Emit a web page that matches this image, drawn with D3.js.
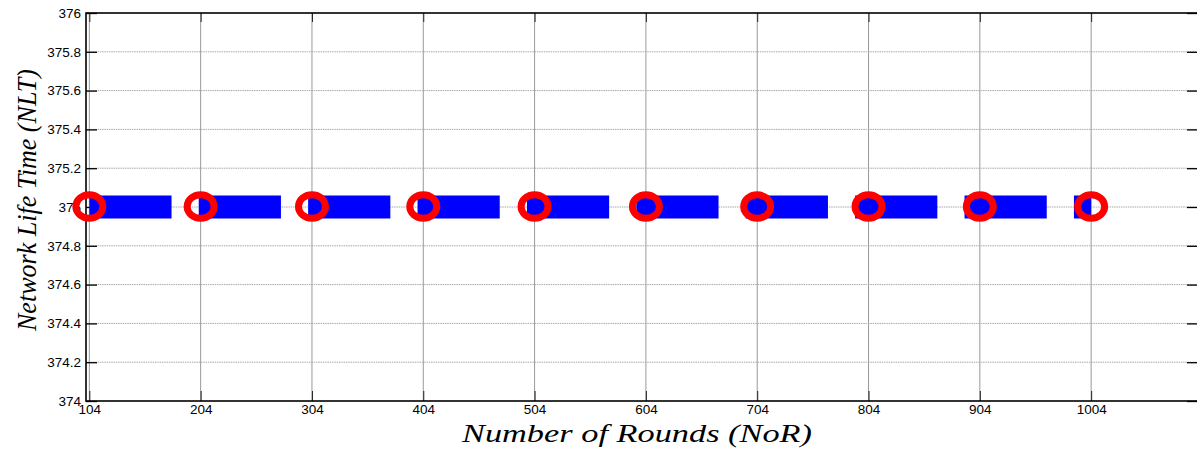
<!DOCTYPE html>
<html>
<head>
<meta charset="utf-8">
<script src="https://cdn.jsdelivr.net/npm/d3@7"></script>
<style>
  html, body { margin: 0; padding: 0; background: #fff; }
  svg { display: block; }
  .tick text { font-family: "Liberation Sans", Arial, sans-serif; font-size: 13.5px; fill: #000; }
</style>
</head>
<body>
<svg id="chart" width="1197" height="450"></svg>
<script>
// ---- data ----
const rounds = [104, 204, 304, 404, 504, 604, 704, 804, 904, 1004];
const nlt = [375, 375, 375, 375, 375, 375, 375, 375, 375, 375];
const xTickValues = [104, 204, 304, 404, 504, 604, 704, 804, 904, 1004];
const yTickValues = [374, 374.2, 374.4, 374.6, 374.8, 375, 375.2, 375.4, 375.6, 375.8, 376];
const yTickLabels = ["374", "374.2", "374.4", "374.6", "374.8", "375", "375.2", "375.4", "375.6", "375.8", "376"];
const xDomain = [101, 1100];
const yDomain = [374, 376];
const xLabel = "Number of Rounds (NoR)";
const yLabel = "Network Life Time (NLT)";

// ---- layout ----
const svg = d3.select("#chart");
const mLeft = 86, mRight = 1198, mTop = 13, mBottom = 401;
const x = d3.scaleLinear().domain(xDomain).range([mLeft, mRight]);
const y = d3.scaleLinear().domain(yDomain).range([mBottom, mTop]);

// grid
const grid = svg.append("g");
grid.selectAll("line.vg").data(xTickValues).enter().append("line")
  .attr("x1", d => x(d)).attr("x2", d => x(d))
  .attr("y1", mTop).attr("y2", mBottom)
  .attr("stroke", "#999").attr("stroke-width", 1);
grid.selectAll("line.hg").data(yTickValues.slice(1, -1)).enter().append("line")
  .attr("x1", mLeft).attr("x2", mRight)
  .attr("y1", d => y(d)).attr("y2", d => y(d))
  .attr("stroke", "#a8a8a8").attr("stroke-width", 1)
  .attr("stroke-dasharray", "1.5,0.8");

// axes (MATLAB box style, ticks inward)
const yAxisL = d3.axisLeft(y).tickValues(yTickValues)
  .tickFormat((d, i) => yTickLabels[i]).tickSizeInner(-11).tickSizeOuter(0).tickPadding(5);
const gyl = svg.append("g").attr("transform", `translate(${mLeft},0)`).call(yAxisL);
gyl.select(".domain").remove();
gyl.selectAll(".tick line").attr("stroke", "#000").attr("stroke-width", 1.3);

const yAxisR = d3.axisRight(y).tickValues(yTickValues).tickFormat("").tickSizeInner(-11).tickSizeOuter(0);
const gyr = svg.append("g").attr("transform", `translate(${mRight},0)`).call(yAxisR);
gyr.select(".domain").remove();
gyr.selectAll(".tick line").attr("stroke", "#000").attr("stroke-width", 1.3);

const xAxisB = d3.axisBottom(x).tickValues(xTickValues).tickFormat(d3.format("d"))
  .tickSizeInner(-10).tickSizeOuter(0).tickPadding(3);
const gxb = svg.append("g").attr("transform", `translate(0,${mBottom})`).call(xAxisB);
gxb.select(".domain").remove();
gxb.selectAll(".tick line").attr("stroke", "#222").attr("stroke-width", 1);

const xAxisT = d3.axisTop(x).tickValues(xTickValues).tickFormat("").tickSizeInner(-9).tickSizeOuter(0);
const gxt = svg.append("g").attr("transform", `translate(0,${mTop})`).call(xAxisT);
gxt.select(".domain").remove();
gxt.selectAll(".tick line").attr("stroke", "#222").attr("stroke-width", 1);

// box
svg.append("rect").attr("x", mLeft).attr("y", mTop)
  .attr("width", mRight - mLeft).attr("height", mBottom - mTop)
  .attr("fill", "none").attr("stroke", "#000").attr("stroke-width", 1.6);

// data: thick dashed blue line
const pts = rounds.map((r, i) => [r, nlt[i]]);
const line = d3.line().x(d => x(d[0])).y(d => y(d[1]));
svg.append("path").datum(pts).attr("d", line)
  .attr("fill", "none").attr("stroke", "#0000ff").attr("stroke-width", 23)
  .attr("stroke-dasharray", "82.2,27.2").attr("stroke-linecap", "butt");

// red ring markers
svg.selectAll("ellipse.mk").data(pts).enter().append("ellipse")
  .attr("cx", d => x(d[0])).attr("cy", d => y(d[1]) - 0.5)
  .attr("rx", 13.5).attr("ry", 11.7)
  .attr("fill", "none").attr("stroke", "#ff0000").attr("stroke-width", 7);

// labels
svg.append("text").attr("x", (mLeft + mRight) / 2 - 5).attr("y", 442)
  .attr("text-anchor", "middle")
  .attr("font-family", "Liberation Serif, DejaVu Serif, serif")
  .attr("font-style", "italic").attr("font-size", 26)
  .attr("textLength", 350).attr("lengthAdjust", "spacingAndGlyphs")
  .text(xLabel);

svg.append("text").attr("transform", "translate(36,200) rotate(-90)")
  .attr("text-anchor", "middle")
  .attr("font-family", "Liberation Serif, DejaVu Serif, serif")
  .attr("font-style", "italic").attr("font-size", 27)
  .attr("textLength", 262).attr("lengthAdjust", "spacingAndGlyphs")
  .text(yLabel);
</script>
</body>
</html>
